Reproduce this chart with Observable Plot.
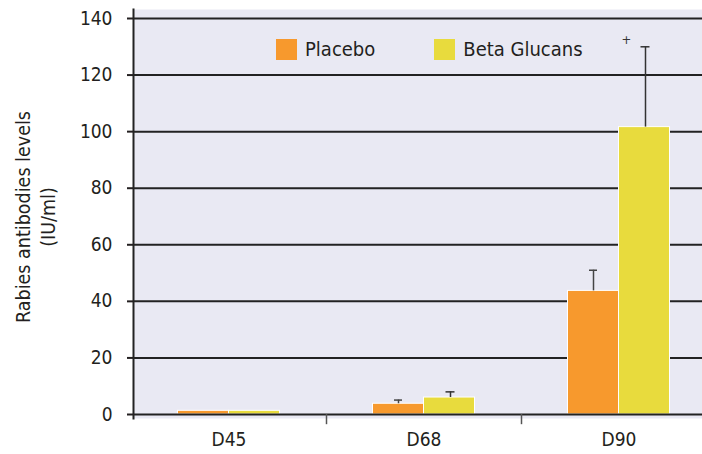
<!DOCTYPE html>
<html>
<head>
<meta charset="utf-8">
<script src="https://cdn.jsdelivr.net/npm/d3@7"></script>
<script src="https://cdn.jsdelivr.net/npm/@observablehq/plot@0.6"></script>
<style>
  body { margin: 0; background: #fff; }
  #wrap { position: relative; width: 702px; height: 454px; font-family: "Liberation Sans Narrow", "DejaVu Sans Condensed", "DejaVu Sans", sans-serif; font-stretch: condensed; color: #231f20; }
  #legend { position: absolute; left: 276px; top: 37px; display: flex; align-items: center; font-size: 20px; }
  .sw { width: 21px; height: 21px; display: inline-block; margin-right: 8px; }
  .item { display: flex; align-items: center; margin-right: 59px; }
</style>
</head>
<body>
<div id="wrap"></div>
<script>
const days = ["D45", "D68", "D90"];
const placebo = [1.3, 3.8, 43.7];
const beta = [1.3, 6.0, 101.6];
const placeboSd = [0, 1.3, 7.3];
const betaSd = [0, 2.0, 28.4];
const yTicks = [0, 20, 40, 60, 80, 100, 120, 140];
const seriesNames = ["Placebo", "Beta Glucans"];
const seriesColors = ["#f7992d", "#e8db3d"];
const marks = [{ day: "D90", y: 132.5, label: "+" }];

const rows = days.map((d, i) => ({
  day: d, placebo: placebo[i], beta: beta[i], placeboSd: placeboSd[i], betaSd: betaSd[i]
}));
const errP = rows.filter(r => r.placeboSd > 0);
const errB = rows.filter(r => r.betaSd > 0);

const chart = Plot.plot({
  width: 702,
  height: 454,
  marginLeft: 133,
  marginRight: 0,
  marginTop: 9,
  marginBottom: 36,
  style: { fontFamily: "'Liberation Sans Narrow', 'DejaVu Sans Condensed', 'DejaVu Sans', sans-serif", fontStretch: "condensed", fontSize: "19px", color: "#231f20", background: "transparent", overflow: "visible" },
  x: { type: "band", domain: days, range: [131, 716], padding: 0 },
  y: { domain: [0, 140], range: [414, 18] },
  marks: [
    Plot.frame({ fill: "#e9e9f3", stroke: null }),
    Plot.ruleY(yTicks.filter(t => t > 0), { stroke: "#222", strokeWidth: 2 }),
    Plot.barY(rows, { x: "day", y: "placebo", fill: seriesColors[0], stroke: "white", strokeWidth: 1, insetLeft: 46.5, insetRight: 97.5 }),
    Plot.barY(rows, { x: "day", y: "beta", fill: seriesColors[1], stroke: "white", strokeWidth: 1, insetLeft: 97.5, insetRight: 46.5 }),
    Plot.ruleX(errP, { x: "day", y1: "placebo", y2: d => d.placebo + d.placeboSd, dx: -25.5, stroke: "#444", strokeWidth: 1.5 }),
    Plot.tickY(errP, { x: "day", y: d => d.placebo + d.placeboSd, insetLeft: 68, insetRight: 119, stroke: "#444", strokeWidth: 1.5 }),
    Plot.ruleX(errB, { x: "day", y1: "beta", y2: d => d.beta + d.betaSd, dx: 26.5, stroke: "#333", strokeWidth: 1.5 }),
    Plot.tickY(errB, { x: "day", y: d => d.beta + d.betaSd, insetLeft: 119.5, insetRight: 66.5, stroke: "#333", strokeWidth: 1.5 }),
    Plot.text(marks, { x: "day", y: "y", text: "label", dx: 7.5, fontSize: 13, fill: "#333" }),
    Plot.ruleY([0], { stroke: "#222", strokeWidth: 2 }),
    Plot.ruleX(days.slice(1), { x: d => d, y1: 0, y2: -3.6, dx: -97.5, stroke: "#555", strokeWidth: 1.5 }),
    Plot.frame({ anchor: "left", stroke: "#222", strokeWidth: 2 }),
    Plot.axisY({ ticks: yTicks, tickSize: 6, tickPadding: 15, strokeWidth: 2, label: null }),
    Plot.axisX({ tickSize: 0, tickPadding: 14, label: null }),
    Plot.text(["Rabies antibodies levels\n(IU/ml)"], { frameAnchor: "left", textAnchor: "middle", rotate: -90, dx: -99, dy: 3, lineHeight: 1.3, fontSize: 19.5, fill: "#231f20" })
  ]
});

const wrap = document.getElementById("wrap");
wrap.appendChild(chart);
const legend = document.createElement("div");
legend.id = "legend";
seriesNames.forEach((name, i) => {
  const it = document.createElement("div");
  it.className = "item";
  const sw = document.createElement("span");
  sw.className = "sw";
  sw.style.background = seriesColors[i];
  it.appendChild(sw);
  const t = document.createElement("span");
  t.textContent = name;
  it.appendChild(t);
  legend.appendChild(it);
});
wrap.appendChild(legend);
</script>
</body>
</html>
